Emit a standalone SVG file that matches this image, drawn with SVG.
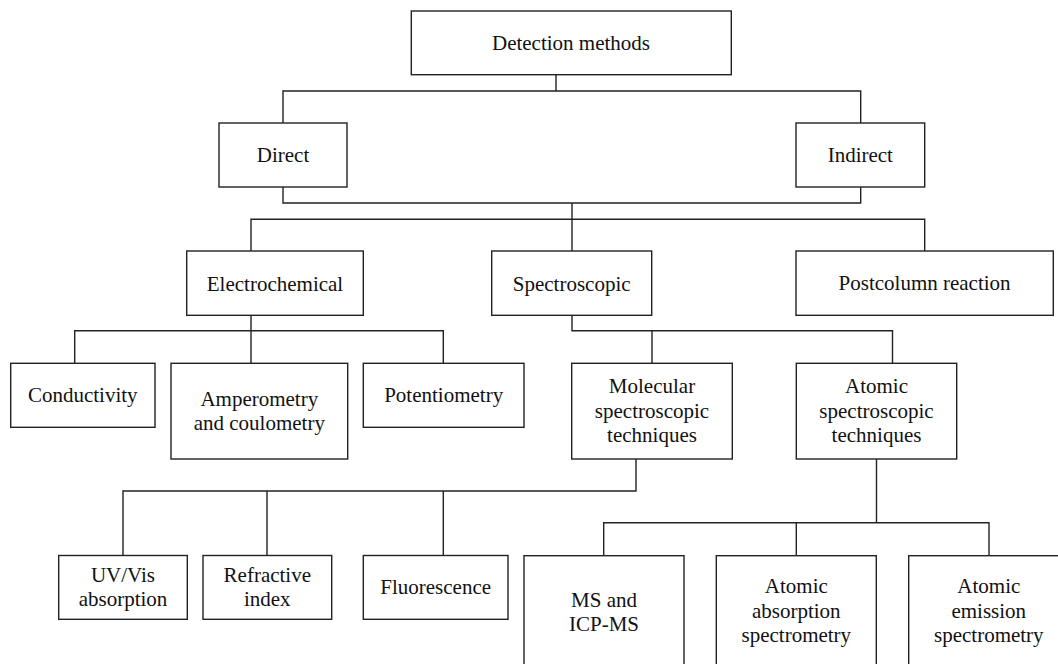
<svg xmlns="http://www.w3.org/2000/svg" width="1058" height="664" viewBox="0 0 1058 664">
<style>
.box{fill:#fff;stroke:#222;stroke-width:1.4}
.ln{fill:none;stroke:#222;stroke-width:1.4}
.t text{font-size:21px;fill:#111;text-anchor:middle}
</style>
<rect width="1058" height="664" fill="#fff"/>
<g id="connectors" class="ln">
<path d="M556,75 V91 M283,123 V91 H860.7 V123"/>
<path d="M283,187 V203 H860.7 V187 M572,203 V219.3"/>
<path d="M251,251 V219.3 H924.7 V251 M572,219.3 V251"/>
<path d="M251,315.3 V330.7 M74.7,363.3 V330.7 H443.3 V363.3 M251,330.7 V363.3"/>
<path d="M572,315.3 V330.7 H892.5 V363.3 M652,330.7 V363.3"/>
<path d="M636,459 V491 H123 V555.5 M267,491 V555.5 M443.3,491 V555.5"/>
<path d="M876.5,459 V522.7 M603.7,555.7 V522.7 H989 V555.7 M796.3,522.7 V555.7"/>
</g>
<g class="t" font-family="Liberation Serif, Times New Roman, serif">
<g id="detection"><rect class="box" x="411.3" y="11" width="320" height="63.7"/><text x="571" y="50">Detection methods</text></g>
<g id="direct"><rect class="box" x="219" y="123" width="128" height="64"/><text x="283" y="162.3">Direct</text></g>
<g id="indirect"><rect class="box" x="796" y="123" width="128.7" height="64"/><text x="860.3" y="162.3">Indirect</text></g>
<g id="electrochemical"><rect class="box" x="186.7" y="251" width="176.6" height="64.3"/><text x="275" y="290.5">Electrochemical</text></g>
<g id="spectroscopic"><rect class="box" x="491.7" y="251" width="160" height="64.3"/><text x="571.7" y="290.5">Spectroscopic</text></g>
<g id="postcolumn"><rect class="box" x="796" y="251" width="257.3" height="64.3"/><text x="924.6" y="290.3">Postcolumn reaction</text></g>
<g id="conductivity"><rect class="box" x="10.7" y="363.3" width="144.3" height="64"/><text x="82.8" y="402.3">Conductivity</text></g>
<g id="amperometry"><rect class="box" x="171" y="363.3" width="176.7" height="95.7"/><text x="259.3" y="405.7">Amperometry</text><text x="259.3" y="430">and coulometry</text></g>
<g id="potentiometry"><rect class="box" x="363.3" y="363.3" width="160.7" height="64"/><text x="443.7" y="402.3">Potentiometry</text></g>
<g id="molecular"><rect class="box" x="571.7" y="363.3" width="160.6" height="95.7"/><text x="652" y="393.3">Molecular</text><text x="652" y="417.5">spectroscopic</text><text x="652" y="441.7">techniques</text></g>
<g id="atomic"><rect class="box" x="796.3" y="363.3" width="160.4" height="95.7"/><text x="876.5" y="393.3">Atomic</text><text x="876.5" y="417.5">spectroscopic</text><text x="876.5" y="441.7">techniques</text></g>
<g id="uvvis"><rect class="box" x="58.7" y="555.5" width="128.6" height="63.8"/><text x="123" y="581.7">UV/Vis</text><text x="123" y="605.7">absorption</text></g>
<g id="refractive"><rect class="box" x="203" y="555.5" width="128.7" height="63.8"/><text x="267.3" y="581.7">Refractive</text><text x="267.3" y="605.7">index</text></g>
<g id="fluorescence"><rect class="box" x="363.3" y="555.5" width="144.7" height="63.8"/><text x="435.7" y="594">Fluorescence</text></g>
<g id="ms"><rect class="box" x="524" y="555.7" width="160" height="130"/><text x="604" y="606.7">MS and</text><text x="604" y="630.7">ICP-MS</text></g>
<g id="absorption"><rect class="box" x="716.3" y="555.7" width="160" height="130"/><text x="796.3" y="593.3">Atomic</text><text x="796.3" y="617.7">absorption</text><text x="796.3" y="642">spectrometry</text></g>
<g id="emission"><rect class="box" x="908.7" y="555.7" width="160" height="130"/><text x="988.8" y="593.3">Atomic</text><text x="988.8" y="617.7">emission</text><text x="988.8" y="642">spectrometry</text></g>
</g>
</svg>
